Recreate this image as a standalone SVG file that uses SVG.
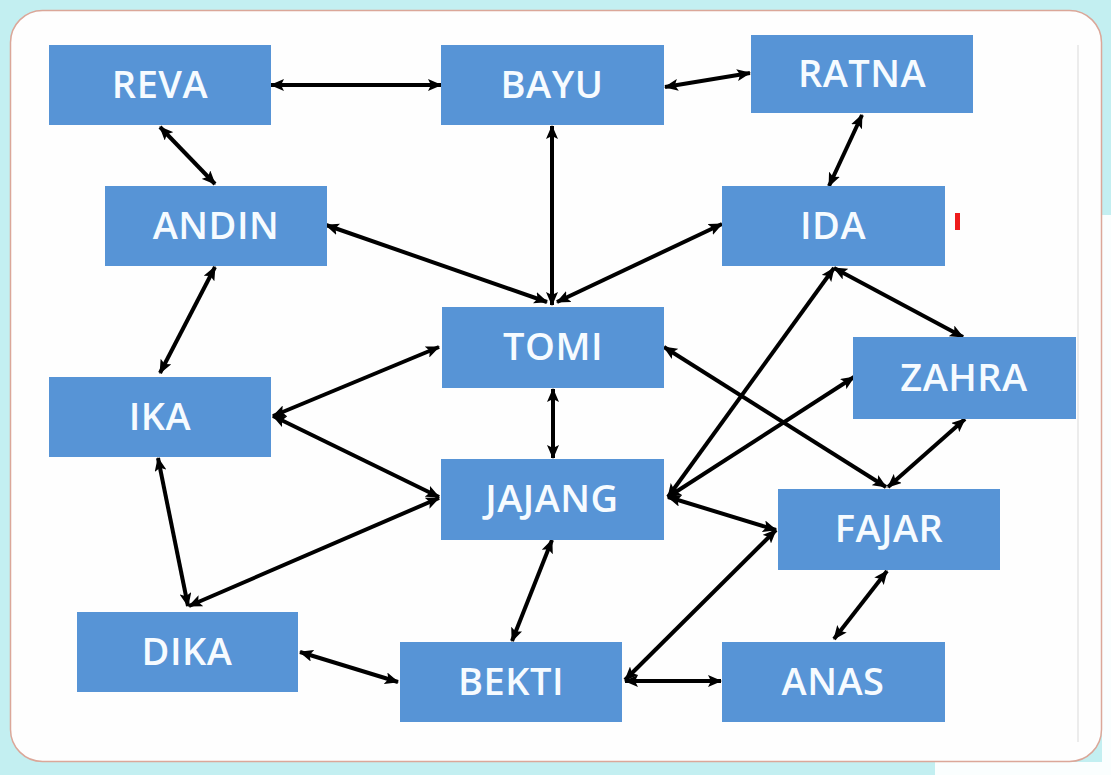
<svg xmlns="http://www.w3.org/2000/svg" width="1111" height="775" viewBox="0 0 1111 775">
<style>
.node rect{fill:#5794d6;}
.node text{fill:#f6fbff;font-family:"Open Sans","Liberation Sans",sans-serif;font-size:38px;font-weight:600;letter-spacing:0.5px;text-anchor:middle;}
.conn line{stroke:#000;stroke-width:4;marker-start:url(#ah);marker-end:url(#ah);}
</style>
<defs>
<marker id="ah" markerUnits="userSpaceOnUse" markerWidth="14" markerHeight="12" refX="13" refY="6" orient="auto-start-reverse">
<path d="M0,0 L14,6 L0,12 L3,6 z" fill="#000"/>
</marker>
</defs>
<rect x="0" y="0" width="1111" height="775" fill="#c3eff1"/>
<rect x="1102" y="215" width="9" height="560" fill="#fafefe"/>
<rect x="935" y="762" width="176" height="13" fill="#fafefe"/>
<rect x="10.5" y="10.5" width="1091" height="751" rx="32" fill="#fefefe" stroke="#dba799" stroke-width="1.5"/>
<line x1="1078" y1="45" x2="1078" y2="742" stroke="#e6e6e6" stroke-width="1.5"/>
<rect x="955" y="213" width="5" height="17" fill="#ee1c1c"/>

<g class="conn" id="connectors">
<line x1="271" y1="85" x2="441" y2="85"/>
<line x1="665" y1="87" x2="750" y2="73"/>
<line x1="160" y1="127" x2="215" y2="184"/>
<line x1="862" y1="115" x2="829" y2="186"/>
<line x1="552" y1="126" x2="552" y2="305"/>
<line x1="326" y1="225" x2="547" y2="302"/>
<line x1="722" y1="224" x2="557" y2="302"/>
<line x1="215" y1="267" x2="160" y2="373"/>
<line x1="273" y1="416" x2="439" y2="347"/>
<line x1="273" y1="416" x2="439" y2="497"/>
<line x1="553" y1="389" x2="553" y2="458"/>
<line x1="834" y1="268" x2="963" y2="337"/>
<line x1="664" y1="347" x2="886" y2="487"/>
<line x1="834" y1="268" x2="668" y2="497"/>
<line x1="854" y1="377" x2="668" y2="497"/>
<line x1="668" y1="497" x2="776" y2="530"/>
<line x1="965" y1="419" x2="888" y2="487"/>
<line x1="158" y1="458" x2="188" y2="606"/>
<line x1="189" y1="606" x2="439" y2="498"/>
<line x1="300" y1="652" x2="398" y2="682"/>
<line x1="552" y1="540" x2="512" y2="641"/>
<line x1="625" y1="680" x2="776" y2="530"/>
<line x1="625" y1="681" x2="721" y2="681"/>
<line x1="887" y1="571" x2="834" y2="639"/>
</g>

<g class="node" id="reva"><rect x="49" y="45" width="222" height="80"/><text x="160" y="98">REVA</text></g>
<g class="node" id="bayu"><rect x="441" y="45" width="223" height="80"/><text x="552" y="98">BAYU</text></g>
<g class="node" id="ratna"><rect x="751" y="35" width="222" height="78"/><text x="862" y="87">RATNA</text></g>
<g class="node" id="andin"><rect x="105" y="186" width="222" height="80"/><text x="216" y="239">ANDIN</text></g>
<g class="node" id="ida"><rect x="722" y="186" width="223" height="80"/><text x="833" y="239">IDA</text></g>
<g class="node" id="tomi"><rect x="442" y="307" width="222" height="81"/><text x="553" y="360">TOMI</text></g>
<g class="node" id="zahra"><rect x="853" y="337" width="223" height="82"/><text x="964" y="391">ZAHRA</text></g>
<g class="node" id="ika"><rect x="49" y="377" width="222" height="80"/><text x="160" y="430">IKA</text></g>
<g class="node" id="jajang"><rect x="441" y="459" width="223" height="81"/><text x="552" y="512">JAJANG</text></g>
<g class="node" id="fajar"><rect x="778" y="489" width="222" height="81"/><text x="889" y="542">FAJAR</text></g>
<g class="node" id="dika"><rect x="77" y="612" width="221" height="80"/><text x="187" y="665">DIKA</text></g>
<g class="node" id="bekti"><rect x="400" y="642" width="222" height="80"/><text x="511" y="695">BEKTI</text></g>
<g class="node" id="anas"><rect x="722" y="642" width="223" height="80"/><text x="833" y="695">ANAS</text></g>
</svg>
